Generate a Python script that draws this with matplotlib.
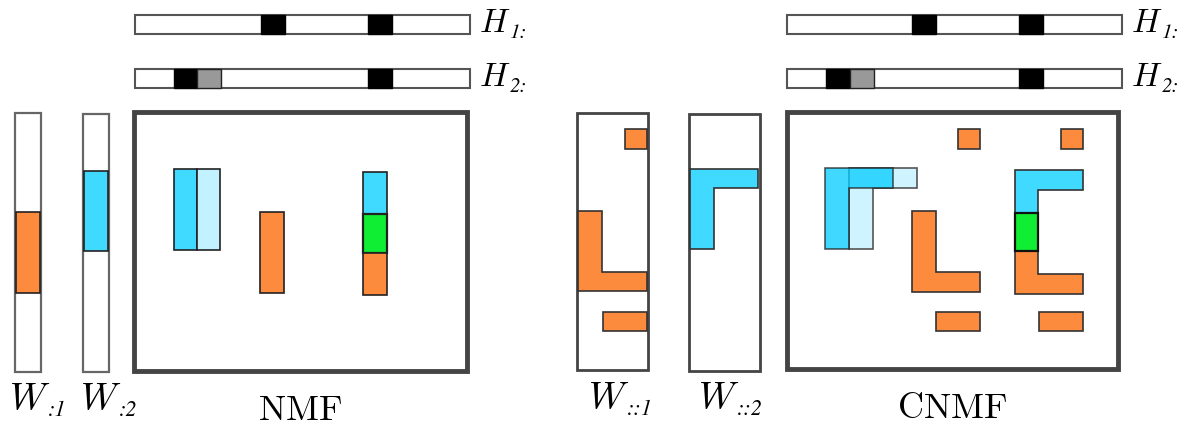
import matplotlib.pyplot as plt
from matplotlib.patches import Polygon, Rectangle

plt.rcParams['mathtext.fontset'] = 'cm'

ORANGE = '#fd8b3e'
BLUE = '#40d9ff'
LIGHT = '#c2f1ff'
GREEN = '#10ee34'
GRAY = '#999999'

# H rows: bar extents, row tops, filled cells (left edge of each cell)
h_row_top = [15, 69]
h_height = 19
h_cell = 23.5
nmf_h_span = (135, 470)
cnmf_h_span = (787, 1122)
nmf_h_black = [[261, 368], [174, 368]]
nmf_h_gray = [[], [197]]
cnmf_h_black = [[912, 1019], [826, 1019]]
cnmf_h_gray = [[], [850]]
h_subs = ['1:', '2:']

# frames (x0, y0, x1, y1)
nmf_w_frames = [(15, 113, 41, 372), (83, 114, 109, 372)]
nmf_frame = (134, 112, 467, 371)
cnmf_w_frames = [(577, 113, 648, 370), (689, 114, 760, 371)]
cnmf_frame = (787, 112, 1118, 369)

# NMF filled blocks (x0, y0, x1, y1, colour)
nmf_blocks = [
    (16, 212, 40, 293, ORANGE),
    (84, 171, 108, 251, BLUE),
    (174, 169, 197, 250, BLUE),
    (197, 169, 220, 250, LIGHT),
    (260, 212, 284, 293, ORANGE),
    (363, 172, 387, 214, BLUE),
    (363, 214, 387, 253, GREEN),
    (363, 253, 387, 295, ORANGE),
]

# CNMF shapes as outlines
cnmf_w1_shapes = [
    [(625, 129), (647, 129), (647, 149), (625, 149)],
    [(578, 211), (602, 211), (602, 272), (647, 272), (647, 291), (578, 291)],
    [(603, 312), (647, 312), (647, 331), (603, 331)],
]
cnmf_w2_shapes = [
    [(690, 169), (758, 169), (758, 188), (714, 188), (714, 249), (690, 249)],
]
cnmf_orange = [
    [(958, 129), (980, 129), (980, 149), (958, 149)],
    [(1061, 129), (1083, 129), (1083, 149), (1061, 149)],
    [(912, 211), (936, 211), (936, 272), (980, 272), (980, 292), (912, 292)],
    [(936, 312), (980, 312), (980, 331), (936, 331)],
    [(1015, 251), (1038, 251), (1038, 274), (1083, 274), (1083, 294), (1015, 294)],
    [(1039, 312), (1083, 312), (1083, 331), (1039, 331)],
]
cnmf_light = [(849, 168), (917, 168), (917, 188), (873, 188), (873, 249), (849, 249)]
cnmf_dark = [(825, 168), (893, 168), (893, 188), (849, 188), (849, 249), (825, 249)]
cnmf_blue = [(1015, 170), (1083, 170), (1083, 190), (1038, 190), (1038, 213), (1015, 213)]
cnmf_green = [(1015, 213), (1038, 213), (1038, 251), (1015, 251)]

# W labels: left x, subscript text
w_label_x = [9, 80, 588, 698]
w_label_sub = [':1', ':2', '::1', '::2']
w_label_base = [410, 410, 409, 409]

fig = plt.figure(figsize=(11.89, 4.25), dpi=100)
ax = fig.add_axes([0, 0, 1, 1])
ax.set_xlim(0, 1189)
ax.set_ylim(425, 0)
ax.axis('off')


def frame(box, lw, ec='#444444'):
    x0, y0, x1, y1 = box
    ax.add_patch(Rectangle((x0, y0), x1 - x0, y1 - y0, fc='white', ec=ec, lw=lw, zorder=1))


def shape(pts, fc, ec='#333333', lw=1.2, alpha=1.0, z=3):
    ax.add_patch(Polygon(pts, closed=True, fc=fc, ec=ec, lw=lw, alpha=alpha, zorder=z))


def sub(x, y, s, size=15):
    ax.text(x, y, s, family='STIXGeneral', style='italic', fontsize=size,
            ha='left', va='baseline')


def h_rows(span, blacks, grays):
    for i, top in enumerate(h_row_top):
        ax.add_patch(Rectangle((span[0], top), span[1] - span[0], h_height,
                               fc='white', ec='#555555', lw=1.5, zorder=1))
        for x in blacks[i]:
            ax.add_patch(Rectangle((x, top), h_cell, h_height, fc='black', ec='black', lw=1, zorder=2))
        for x in grays[i]:
            ax.add_patch(Rectangle((x, top), h_cell, h_height, fc=GRAY, ec='#222222', lw=1, zorder=2))
        ax.text(span[1] + 9, top + 17, r'$H$', fontsize=24, va='baseline', ha='left')
        sub(span[1] + 40, top + 23, h_subs[i], 15)


# NMF side
h_rows(nmf_h_span, nmf_h_black, nmf_h_gray)
for b in nmf_w_frames:
    frame(b, 1.6, '#666666')
frame(nmf_frame, 3.5)
for x0, y0, x1, y1, c in nmf_blocks:
    lw = 1.6 if c == GREEN else 1.2
    shape([(x0, y0), (x1, y0), (x1, y1), (x0, y1)], c, ec='#222222', lw=lw)

# CNMF side
h_rows(cnmf_h_span, cnmf_h_black, cnmf_h_gray)
for b in cnmf_w_frames:
    frame(b, 2.0)
frame(cnmf_frame, 3.5)
for pts in cnmf_w1_shapes + cnmf_orange:
    shape(pts, ORANGE)
for pts in cnmf_w2_shapes:
    shape(pts, BLUE)
shape(cnmf_light, '#cff4ff', ec='#555555')
shape(cnmf_dark, '#00ccff', ec='#222222', alpha=0.75, z=4)
shape(cnmf_blue, BLUE)
shape(cnmf_green, GREEN, ec='#111111', lw=1.6, z=5)

# labels
for x, s, yb in zip(w_label_x, w_label_sub, w_label_base):
    ax.text(x, yb, r'$W$', fontsize=27, ha='left', va='baseline')
    sub(x + 39, yb + 6, s, 16)
ax.text(300, 420, r'$\mathrm{NMF}$', fontsize=26, ha='center', va='baseline')
ax.text(952, 418, r'$\mathrm{CNMF}$', fontsize=26, ha='center', va='baseline')

fig.savefig('out.png', dpi=100)
